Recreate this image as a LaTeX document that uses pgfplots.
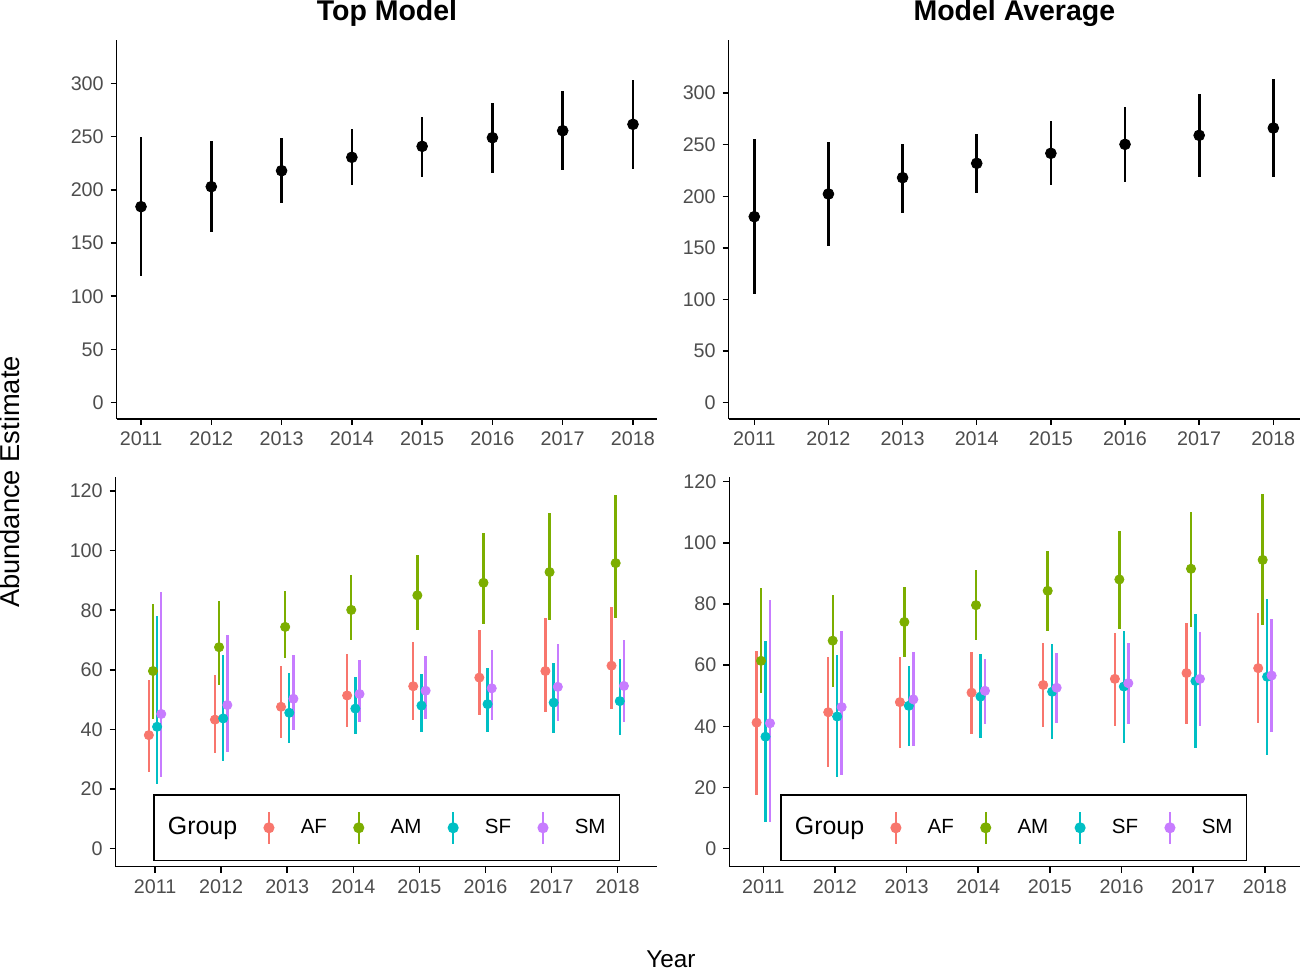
\documentclass[border=0pt]{standalone}
\usepackage{pgfplots}
\pgfplotsset{compat=1.18}
\usepackage{pgfplotstable}
\usepackage{fontspec}
\setmainfont{Liberation Sans}

\definecolor{cAF}{HTML}{F8766D}
\definecolor{cAM}{HTML}{7CAE00}
\definecolor{cSF}{HTML}{00BFC4}
\definecolor{cSM}{HTML}{C77CFF}
\definecolor{tickgray}{HTML}{4D4D4D}

% total abundance: estimate with lower and upper bound
\pgfplotstableread{
year est lo hi
2011 184.1 119.0 249.3
2012 202.9 160.0 246.1
2013 217.9 187.9 248.3
2014 230.5 204.2 256.8
2015 240.8 212.3 268.6
2016 248.9 216.0 281.2
2017 255.5 218.3 292.8
2018 261.5 219.5 303.1
}\topTotal
\pgfplotstableread{
year est lo hi
2011 180.2 105.3 255.2
2012 202.2 151.5 252.9
2013 218.0 184.1 250.9
2014 231.9 203.5 260.0
2015 241.6 210.6 272.6
2016 250.3 213.8 286.2
2017 259.0 219.0 299.1
2018 266.1 218.4 313.3
}\avgTotal

% by group, top model
\pgfplotstableread{
year est lo hi
2011 38.1 25.8 56.5
2012 43.3 32.2 58.4
2013 47.6 37.2 61.3
2014 51.4 40.7 65.2
2015 54.5 43.2 69.3
2016 57.4 44.7 73.4
2017 59.6 46.0 77.4
2018 61.4 46.9 81.0
}\topAF
\pgfplotstableread{
year est lo hi
2011 59.6 43.4 82.1
2012 67.6 54.9 83.1
2013 74.4 63.9 86.3
2014 80.1 69.9 91.7
2015 85.0 73.4 98.6
2016 89.2 75.3 105.8
2017 92.8 76.6 112.5
2018 95.8 77.5 118.8
}\topAM
\pgfplotstableread{
year est lo hi
2011 40.9 21.6 78.1
2012 43.7 29.5 64.9
2013 45.6 35.4 59.0
2014 47.0 38.4 57.5
2015 48.0 39.1 58.6
2016 48.5 39.0 60.5
2017 49.0 38.7 62.4
2018 49.5 38.2 63.6
}\topSF
\pgfplotstableread{
year est lo hi
2011 45.2 24.0 86.0
2012 48.2 32.5 71.6
2013 50.3 39.8 64.9
2014 51.9 42.6 63.2
2015 53.0 43.4 64.5
2016 53.8 43.3 66.5
2017 54.3 42.8 68.7
2018 54.6 42.4 70.1
}\topSM

% by group, model average
\pgfplotstableread{
year est lo hi
2011 41.2 17.6 64.7
2012 44.6 26.6 62.5
2013 47.9 33.0 62.8
2014 51.0 37.4 64.4
2015 53.5 39.7 67.2
2016 55.5 40.2 70.4
2017 57.4 40.8 73.7
2018 59.0 41.0 77.0
}\avgAF
\pgfplotstableread{
year est lo hi
2011 61.4 51.0 85.1
2012 68.0 52.8 83.0
2013 74.1 62.5 85.7
2014 79.6 68.2 91.1
2015 84.3 71.2 97.2
2016 88.0 71.8 103.9
2017 91.5 72.6 110.0
2018 94.4 73.2 115.9
}\avgAM
\pgfplotstableread{
year est lo hi
2011 36.6 8.8 67.9
2012 43.2 23.3 63.3
2013 46.7 33.6 59.7
2014 49.7 36.1 63.6
2015 51.3 35.8 66.9
2016 53.0 34.5 71.2
2017 54.8 32.8 76.6
2018 56.2 30.6 81.6
}\avgSF
\pgfplotstableread{
year est lo hi
2011 41.0 8.8 81.3
2012 46.3 24.1 71.2
2013 48.8 33.6 64.2
2014 51.6 40.8 62.0
2015 52.6 41.2 64.1
2016 54.1 40.7 67.2
2017 55.5 40.2 70.8
2018 56.6 38.2 75.1
}\avgSM

\pgfplotsset{
  panel/.style={
    scale only axis,
    axis lines*=left,
    axis line style={-, line width=0.75bp, black},
    tick align=outside,
    major tick length=3bp,
    tick style={black, line width=0.75bp},
    tick label style={font=\fontsize{9.9}{11}\selectfont, text=tickgray},
    xtick={2011,...,2018},
    /pgf/number format/1000 sep={},
    /pgf/number format/assume math mode=true,
    title style={font=\bfseries\fontsize{14.3}{16}\selectfont,
      at={(0.5,1)}, anchor=base, yshift=4bp},
  },
  groupleg/.style={
    legend columns=5,
    legend style={at={(#1,0.0135)}, anchor=south west, draw=black,
      line width=0.9bp, inner xsep=7bp, inner ysep=7.9bp, column sep=0pt,
      font=\fontsize{10.3}{12}\selectfont, nodes={inner sep=0pt}},
  },
}

% point estimate with its interval; #1 colour, #2 table, #3 dodge, #4 dot radius, #5 bar width
\newcommand\prange[5]{%
  \addplot[#1, only marks, mark=*, mark size=#4, forget plot,
    error bars/.cd, y dir=both, y explicit, error mark=none,
    error bar style={line width=#5, #1}]
    table[x expr=\thisrow{year}+#3, y=est,
      y error plus expr=\thisrow{hi}-\thisrow{est},
      y error minus expr=\thisrow{est}-\thisrow{lo}] {#2};}

% legend key: vertical bar with a dot
\newcommand\glyph[1]{%
  \addlegendimage{legend image code/.code={%
    \path[draw=none,fill=none] (-15.9bp,-7.9bp) rectangle (15.9bp,7.9bp);
    \draw[line width=1.15bp,#1] (0,-7.9bp) -- (0,7.9bp);
    \fill[#1] (0,0) circle (2.3bp);}}}

\newcommand\groupkeys{%
  \addlegendimage{empty legend}
  \addlegendentry{\fontsize{12.5}{14}\selectfont Group}
  \glyph{cAF}\addlegendentry{AF}
  \glyph{cAM}\addlegendentry{AM}
  \glyph{cSF}\addlegendentry{SF}
  \glyph{cSM}\addlegendentry{SM}}

\begin{document}
\begin{tikzpicture}
\useasboundingbox (0,0) rectangle (650bp,485bp);

\begin{axis}[panel, at={(58.35bp,275.5bp)}, anchor=south west,
  width=270.3bp, height=189.5bp,
  xmin=2010.654, xmax=2018.346, ymin=-15.3, ymax=340.7,
  ytick={0,50,...,300}, title={Top Model}]
\prange{black}{\topTotal}{0}{2.7bp}{1.35bp}
\end{axis}

\begin{axis}[panel, at={(364.35bp,275.5bp)}, anchor=south west,
  width=285.65bp, height=189.5bp,
  xmin=2010.655, xmax=2018.36, ymin=-15.8, ymax=351.4,
  ytick={0,50,...,300}, title={Model Average}]
\prange{black}{\avgTotal}{0}{2.7bp}{1.35bp}
\end{axis}

\begin{axis}[panel, groupleg=0.069, at={(57.85bp,51.65bp)}, anchor=south west,
  width=270.5bp, height=195bp,
  xmin=2010.405, xmax=2018.59, ymin=-6.04, ymax=124.8,
  ytick={0,20,...,120}]
\prange{cAF}{\topAF}{-0.09375}{2.3bp}{1.2bp}
\prange{cAM}{\topAM}{-0.03125}{2.3bp}{1.2bp}
\prange{cSF}{\topSF}{0.03125}{2.3bp}{1.2bp}
\prange{cSM}{\topSM}{0.09375}{2.3bp}{1.2bp}
\groupkeys
\end{axis}

\begin{axis}[panel, groupleg=0.0888, at={(364.65bp,51.65bp)}, anchor=south west,
  width=285.35bp, height=195bp,
  xmin=2010.526, xmax=2018.49, ymin=-5.9, ymax=121.6,
  ytick={0,20,...,120}]
\prange{cAF}{\avgAF}{-0.09375}{2.3bp}{1.2bp}
\prange{cAM}{\avgAM}{-0.03125}{2.3bp}{1.2bp}
\prange{cSF}{\avgSF}{0.03125}{2.3bp}{1.2bp}
\prange{cSM}{\avgSM}{0.09375}{2.3bp}{1.2bp}
\groupkeys
\end{axis}

\node[rotate=90, anchor=base, font=\fontsize{13.7}{15}\selectfont] at (9.5bp,244bp) {Abundance Estimate};
\node[anchor=base, font=\fontsize{12.2}{14}\selectfont] at (335.5bp,1.2bp) {Year};
\end{tikzpicture}
\end{document}
